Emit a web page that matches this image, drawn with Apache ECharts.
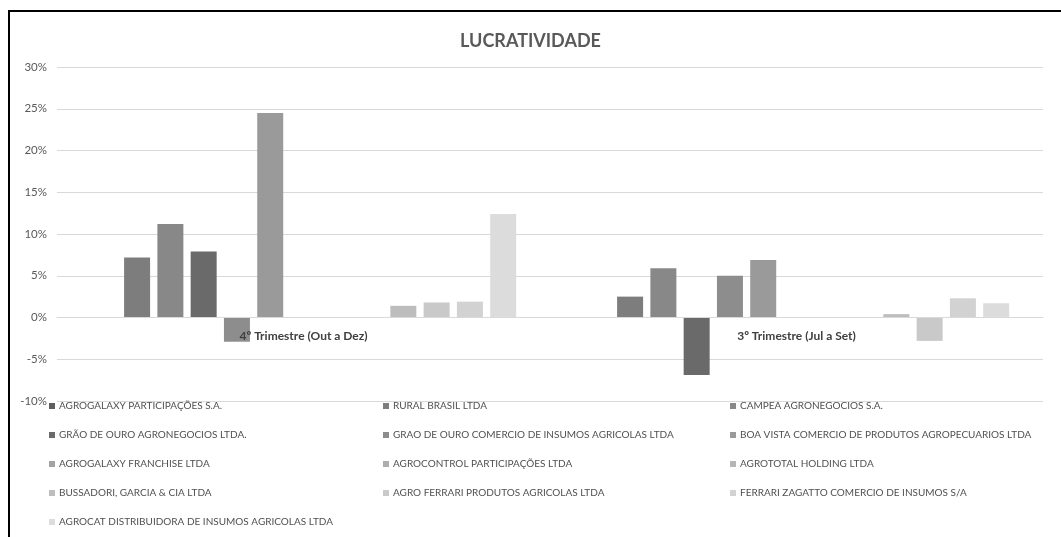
<!DOCTYPE html>
<html>
<head>
    <meta charset="utf-8">
    <title>LUCRATIVIDADE</title>
    <style>
        html, body { margin: 0; padding: 0; background: #fff; }
        #chart { width: 1061px; height: 537px; }
    </style>
</head>
<body>
    <div id="chart"></div>
    <script src="https://cdn.jsdelivr.net/npm/echarts@6/dist/echarts.min.js"></script>
    <script>
// trimestres (categorias)
var trimestres = ['4º Trimestre (Out a Dez)', '3º Trimestre (Jul a Set)'];

// empresas, na ordem da legenda
var empresas = [
  'AGROGALAXY PARTICIPAÇÕES S.A.',
  'RURAL BRASIL LTDA',
  'CAMPEA AGRONEGOCIOS S.A.',
  'GRÃO DE OURO AGRONEGOCIOS LTDA.',
  'GRAO DE OURO COMERCIO DE INSUMOS AGRICOLAS LTDA',
  'BOA VISTA COMERCIO DE PRODUTOS AGROPECUARIOS LTDA',
  'AGROGALAXY FRANCHISE LTDA',
  'AGROCONTROL PARTICIPAÇÕES LTDA',
  'AGROTOTAL HOLDING LTDA',
  'BUSSADORI, GARCIA & CIA LTDA',
  'AGRO FERRARI PRODUTOS AGRICOLAS LTDA',
  'FERRARI ZAGATTO COMERCIO DE INSUMOS S/A',
  'AGROCAT DISTRIBUIDORA DE INSUMOS AGRICOLAS LTDA'
];

// lucratividade (%) no 4º e no 3º trimestre
var lucro4T = [null, 7.2, 11.2, 7.9, -2.9, 24.5, null, null, null, 1.4, 1.8, 1.9, 12.4];
var lucro3T = [null, 2.5, 5.9, -6.9, 5.0, 6.9, null, null, null, 0.4, -2.8, 2.3, 1.7];

// eixo y
var yMin = -10, yMax = 30, yPasso = 5;

// tons de cinza (paleta monocromática)
var cores = ['#5e5e5e', '#7d7d7d', '#888888', '#6a6a6a', '#8d8d8d', '#9a9a9a',
             '#a3a3a3', '#adadad', '#b5b5b5', '#bdbdbd', '#c9c9c9', '#d2d2d2', '#dcdcdc'];

var chart = echarts.init(document.getElementById('chart'));

var gridTop = 67, gridBottom = 136, alturaPlot = 537 - gridTop - gridBottom;
// desloca o eixo das categorias até a linha do zero
var deslocZero = -alturaPlot * (0 - yMin) / (yMax - yMin);

var series = empresas.map(function (nome, i) {
  return {
    name: nome,
    type: 'bar',
    barWidth: 26,
    barGap: '28%',
    itemStyle: { color: cores[i] },
    data: [lucro4T[i], lucro3T[i]]
  };
});

// legenda em 3 colunas
var colunas = [[], [], []];
empresas.forEach(function (nome, i) { colunas[i % 3].push(nome); });
var legendas = colunas.map(function (col, c) {
  return {
    orient: 'vertical',
    left: [44, 378, 725][c],
    top: 396,
    itemGap: 19,
    itemWidth: 6,
    itemHeight: 6,
    icon: 'rect',
    selectedMode: false,
    textStyle: { color: '#505050', fontSize: 10, fontFamily: 'Lato', padding: [0, 0, 0, -1] },
    data: col
  };
});

var option = {
  backgroundColor: '#fff',
  animation: false,
  textStyle: { fontFamily: 'Lato' },
  title: {
    text: 'LUCRATIVIDADE',
    left: 'center',
    top: 27,
    textStyle: { color: '#595959', fontSize: 18, fontWeight: 'bold', fontFamily: 'Lato' }
  },
  graphic: [{
    type: 'rect',
    shape: { x: 9, y: 11, width: 1200, height: 700 },
    style: { fill: null, stroke: '#000', lineWidth: 2 },
    silent: true
  }],
  legend: legendas,
  grid: { left: 57, right: 18, top: gridTop, bottom: gridBottom },
  xAxis: {
    type: 'category',
    data: trimestres,
    z: 5,
    position: 'bottom',
    offset: deslocZero,
    axisLine: { show: true, onZero: false, lineStyle: { color: '#d9d9d9' } },
    axisTick: { show: false },
    axisLabel: { color: '#404040', fontSize: 12, fontWeight: 'bold', fontFamily: 'Lato', margin: 13 }
  },
  yAxis: {
    type: 'value',
    min: yMin,
    max: yMax,
    interval: yPasso,
    axisLine: { show: false },
    axisTick: { show: false },
    axisLabel: { formatter: '{value}%', color: '#595959', fontSize: 11.5, margin: 10 },
    splitLine: { lineStyle: { color: '#d9d9d9' } }
  },
  series: series
};

chart.setOption(option);
    </script>
</body>
</html>
